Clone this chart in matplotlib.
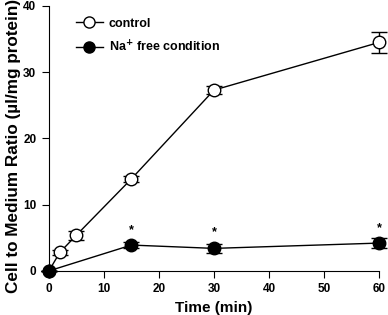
import numpy as np
import matplotlib.pyplot as plt
from matplotlib.lines import Line2D

plt.rcParams['font.family'] = ['Liberation Sans', 'DejaVu Sans']
plt.rcParams['font.weight'] = 'bold'

# data
t_ctrl = [0, 2, 5, 15, 30, 60]
ctrl = [0, 2.8, 5.4, 13.9, 27.3, 34.5]
ctrl_err = [0, 0.4, 0.7, 0.5, 0.6, 1.6]

t_na = [0, 15, 30, 60]
na = [0, 3.9, 3.4, 4.2]
na_err = [0, 0.5, 0.7, 0.8]

star_t = [15, 30, 60]
star_y = [6.2, 5.9, 6.5]

fig = plt.figure(figsize=(3.88, 3.15), dpi=100)
ax = fig.add_axes([0.126, 0.14, 0.851, 0.841])

ax.errorbar(t_ctrl, ctrl, yerr=ctrl_err, color='black', marker='o', markersize=9,
            markerfacecolor='white', markeredgecolor='black', lw=1, capsize=5.5,
            elinewidth=1, capthick=1, zorder=3)
ax.errorbar(t_na, na, yerr=na_err, color='black', marker='o', markersize=9,
            markerfacecolor='black', markeredgecolor='black', lw=1, capsize=5.5,
            elinewidth=1, capthick=1, zorder=3)

for x, y in zip(star_t, star_y):
    ax.text(x, y, '*', ha='center', va='center', fontsize=9)

ax.set_xlim(0, 60)
ax.set_ylim(0, 40)
ax.set_xticks([0, 10, 20, 30, 40, 50, 60])
ax.set_yticks([0, 10, 20, 30, 40])
ax.spines['top'].set_visible(False)
ax.spines['right'].set_visible(False)
ax.tick_params(direction='out', length=5, labelsize=8.5, pad=4)
for lab in ax.get_xticklabels() + ax.get_yticklabels():
    lab.set_fontweight('bold')
ax.set_xlabel('Time (min)', fontsize=11, fontweight='bold')
ax.set_ylabel('Cell to Medium Ratio (µl/mg protein)', fontsize=12.3, fontweight='bold')
ax.yaxis.set_label_coords(-0.085, 0.47)
for line in ax.get_lines():
    line.set_clip_on(False)
for c in ax.collections:
    c.set_clip_on(False)

handles = [
    Line2D([], [], color='black', lw=1, marker='o', markersize=8,
           markerfacecolor='white', markeredgecolor='black'),
    Line2D([], [], color='black', lw=1, marker='o', markersize=8,
           markerfacecolor='black', markeredgecolor='black'),
]
labels = ['control', 'Na$^{\\mathbf{+}}$ free condition']
ax.legend(handles, labels, loc='upper left', bbox_to_anchor=(0.068, 0.975), frameon=False,
          fontsize=9, handlelength=2.1, handletextpad=0.5, borderaxespad=0,
          labelspacing=0.75)

fig.savefig('out.png', dpi=100)
